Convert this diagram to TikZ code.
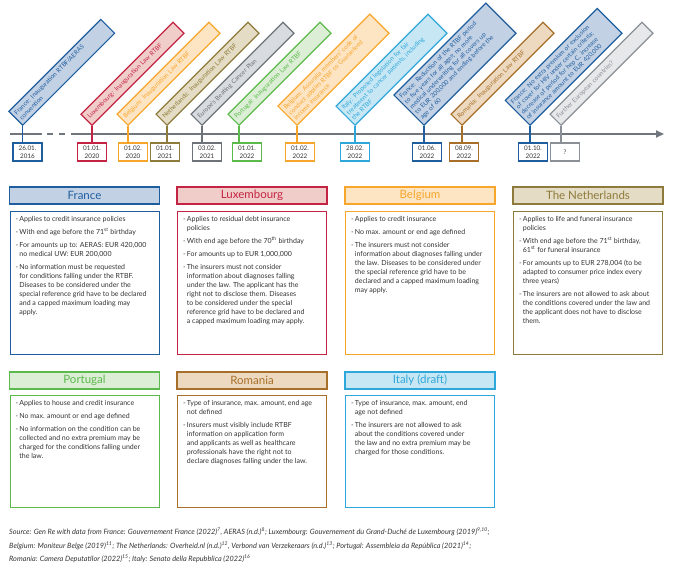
\documentclass[tikz,border=0pt]{standalone}
\usepackage{fontspec}
\setmainfont{Lato}
\usetikzlibrary{arrows.meta}
\definecolor{FR}{HTML}{1F5E9E}\definecolor{FRl}{HTML}{C3D1E5}
\definecolor{LU}{HTML}{C42443}\definecolor{LUl}{HTML}{F1CDC9}
\definecolor{BE}{HTML}{F7A52B}\definecolor{BEl}{HTML}{FDE5C3}
\definecolor{NL}{HTML}{8E7B3C}\definecolor{NLl}{HTML}{E4DCC4}
\definecolor{EU}{HTML}{6D7379}\definecolor{EUl}{HTML}{D8DBDF}
\definecolor{PT}{HTML}{5CB94B}\definecolor{PTl}{HTML}{DCEFD6}
\definecolor{IT}{HTML}{2EA8DA}\definecolor{ITl}{HTML}{C8E7F5}
\definecolor{RO}{HTML}{A86F2A}\definecolor{ROl}{HTML}{ECD9BF}
\definecolor{FU}{HTML}{8A9096}\definecolor{FUl}{HTML}{E6E8EA}
\definecolor{txt}{HTML}{333333}
\definecolor{axisc}{HTML}{6F767D}
\newcommand\itm[1]{\par\hangindent=3.8pt\hangafter=1\noindent\makebox[3.8pt][l]{-}#1\par}
\newcommand\cbox[2]{\makebox[138pt][l]{\parbox[t][#1][t]{200pt}{\fontsize{7}{9}\selectfont\parskip=4pt #2}}}
\begin{document}
\begin{tikzpicture}[x=1pt,y=-1pt,
  axisline/.style={draw=axisc, line width=1.8pt},
  tb/.style={rotate=45, anchor=south west, draw=#1, fill=#1l, text=#1, line width=1.2pt,
    font=\fontsize{6.2}{7.3}\selectfont, align=left, text width=124pt,
    inner xsep=3pt, inner ysep=3.8pt, minimum height=15.5pt},
  db/.style={draw=#1, fill=white, text=txt, line width=1.2pt, minimum width=29pt,
    minimum height=18pt, inner sep=0pt, align=center, font=\fontsize{6.3}{7.6}\selectfont},
  stem/.style={draw=#1, line width=1.2pt},
  hd/.style={draw=#1, fill=#1l, text=#1, line width=1.2pt, minimum width=150pt,
    minimum height=17pt, inner sep=0pt, font=\fontsize{11.5}{13}\selectfont},
  cb/.style={draw=#1, fill=white, text=txt, line width=1.2pt, anchor=north west,
    inner xsep=5.5pt, inner ysep=5pt}]
\useasboundingbox (0,0) rectangle (674,570);

% axis
\coordinate (a0) at (10,134); \coordinate (a1) at (42,134);
\coordinate (a2) at (47,134); \coordinate (a3) at (65,134);
\coordinate (a4) at (71,134); \coordinate (a5) at (664,134);
\draw[axisline] (a0) -- (a1);
\draw[axisline, dash pattern=on 6pt off 6pt] (a2) -- (a3);
\draw[axisline, -{Triangle[length=8pt,width=7pt]}] (a4) -- (a5);

% date boxes
\node[db=FR] (d1) at (27.5,152) {26.01.\\2016};
\node[db=LU] (d2) at (92,152) {01.01.\\2020};
\node[db=BE] (d3) at (133,152) {01.02.\\2020};
\node[db=NL] (d4) at (165,152) {01.01.\\2021};
\node[db=EU] (d5) at (207,152) {03.02.\\2021};
\node[db=PT] (d6) at (247,152) {01.01.\\2022};
\node[db=BE] (d7) at (300,152) {01.02.\\2022};
\node[db=IT] (d8) at (355,152) {28.02.\\2022};
\node[db=FR] (d9) at (427,152) {01.06.\\2022};
\node[db=RO] (d10) at (464,152) {08.09.\\2022};
\node[db=FR] (d11) at (533,152) {01.10.\\2022};
\node[db=FU] (d12) at (565,152) {?};

% tilted boxes
\node[tb=FR] (t1) at (22.7,126) {France: Inauguration RTBF/AERAS\\convention};
\node[tb=LU] (t2) at (92,126) {Luxembourg: Inauguration Law RTBF};
\node[tb=BE] (t3) at (128,126) {Belgium: Inauguration Law RTBF};
\node[tb=NL] (t4) at (167,126) {Netherlands: Inauguration Law RTBF};
\node[tb=EU] (t5) at (202,126) {Europe's Beating Cancer Plan};
\node[tb=PT] (t6) at (239,126) {Portugal: Inauguration Law RTBF};
\node[tb=BE] (t7) at (297,126) {Belgium: Assuralia members' code of\\conduct applies RTBF to Guaranteed\\income insurance};
\node[tb=IT] (t8) at (355,126) {Italy: Proposed legislation for fair\\treatment to cancer patients, including\\the RTBF};
\node[tb=FR] (t9) at (424,126) {France: Reduction of the RTBF period\\to five years for all ages; no more\\medical underwriting for all covers up\\to EUR 200,000 and ending before the\\age of 60};
\node[tb=RO] (t10) at (462,126) {Romania: Inauguration Law RTBF};
\node[tb=FR] (t11) at (530,126) {France: No extra premium or exclusion\\of cover for HIV under certain criteria;\\decrease of period for hep C, increase\\of insurance amount to EUR 420,000};
\node[tb=FU] (t12) at (561,126) {Further European countries?};

% stems
\draw[stem=FR] (t1.south west) -- (t1.south west |- d1.north);
\draw[stem=LU] (t2.south west) -- (t2.south west |- d2.north);
\draw[stem=BE] (t3.south west) -- (t3.south west |- d3.north);
\draw[stem=NL] (t4.south west) -- (t4.south west |- d4.north);
\draw[stem=EU] (t5.south west) -- (t5.south west |- d5.north);
\draw[stem=PT] (t6.south west) -- (t6.south west |- d6.north);
\draw[stem=BE] (t7.south west) -- (t7.south west |- d7.north);
\draw[stem=IT] (t8.south west) -- (t8.south west |- d8.north);
\draw[stem=FR] (t9.south west) -- (t9.south west |- d9.north);
\draw[stem=RO] (t10.south west) -- (t10.south west |- d10.north);
\draw[stem=FR] (t11.south west) -- (t11.south west |- d11.north);
\draw[stem=FU] (t12.south west) -- (t12.south west |- d12.north);

% headers row 1
\node[hd=FR] (hFR) at (84.5,195.5) {France};
\node[hd=LU] (hLU) at (252,195.5) {Luxembourg};
\node[hd=BE] (hBE) at (420,195.5) {Belgium};
\node[hd=NL] (hNL) at (588,195.5) {The Netherlands};
% headers row 2
\node[hd=PT] (hPT) at (84.5,380.5) {Portugal};
\node[hd=RO] (hRO) at (252,380.5) {Romania};
\node[hd=IT] (hIT) at (420,380.5) {Italy (draft)};

% content row 1
\node[cb=FR] (bFR) at (9.5,211) {\cbox{133pt}{%
\itm{Applies to credit insurance policies}
\itm{With end age before the 71\textsuperscript{st} birthday}
\itm{For amounts up to: AERAS: EUR 420,000\\no medical UW: EUR 200,000}
\itm{No information must be requested\\for conditions falling under the RTBF.\\Diseases to be considered under the\\special reference grid have to be declared\\and a capped maximum loading may\\apply.}}};
\node[cb=LU] (bLU) at (177,211) {\cbox{133pt}{%
\itm{Applies to residual debt insurance\\policies}
\itm{With end age before the 70\textsuperscript{th} birthday}
\itm{For amounts up to EUR 1,000,000}
\itm{The insurers must not consider\\information about diagnoses falling\\under the law. The applicant has the\\right not to disclose them. Diseases\\to be considered under the special\\reference grid have to be declared and\\a capped maximum loading may apply.}}};
\node[cb=BE] (bBE) at (345,211) {\cbox{133pt}{%
\itm{Applies to credit insurance}
\itm{No max. amount or end age defined}
\itm{The insurers must not consider\\information about diagnoses falling under\\the law. Diseases to be considered under\\the special reference grid have to be\\declared and a capped maximum loading\\may apply.}}};
\node[cb=NL] (bNL) at (513,211) {\cbox{133pt}{%
\itm{Applies to life and funeral insurance\\policies}
\itm{With end age before the 71\textsuperscript{st} birthday,\\61\textsuperscript{st} for funeral insurance}
\itm{For amounts up to EUR 278,004 (to be\\adapted to consumer price index every\\three years)}
\itm{The insurers are not allowed to ask about\\the conditions covered under the law and\\the applicant does not have to disclose\\them.}}};

% content row 2
\node[cb=PT] (bPT) at (9.5,395) {\cbox{102pt}{%
\itm{Applies to house and credit insurance}
\itm{No max. amount or end age defined}
\itm{No information on the condition can be\\collected and no extra premium may be\\charged for the conditions falling under\\the law.}}};
\node[cb=RO] (bRO) at (177,395) {\cbox{102pt}{%
\itm{Type of insurance, max. amount, end age\\not defined}
\itm{Insurers must visibly include RTBF\\information on application form\\and applicants as well as healthcare\\professionals have the right not to\\declare diagnoses falling under the law.}}};
\node[cb=IT] (bIT) at (345,395) {\cbox{102pt}{%
\itm{Type of insurance, max. amount, end\\age not defined}
\itm{The insurers are not allowed to ask\\about the conditions covered under\\the law and no extra premium may be\\charged for those conditions.}}};

% source
\node[anchor=north west, align=left, inner sep=0pt, text=txt,
  font=\fontsize{7.3}{13.5}\selectfont\itshape] (src) at (9,528)
{Source: Gen Re with data from France: Gouvernement France (2022)\textsuperscript{7}, AERAS (n.d.)\textsuperscript{8}; Luxembourg: Gouvernement du Grand-Duché de Luxembourg (2019)\textsuperscript{9,10};\\
Belgium: Moniteur Belge (2019)\textsuperscript{11}; The Netherlands: Overheid.nl (n.d.)\textsuperscript{12}, Verbond van Verzekeraars (n.d.)\textsuperscript{13}; Portugal: Assembleia da República (2021)\textsuperscript{14};\\
Romania: Camera Deputatilor (2022)\textsuperscript{15}; Italy: Senato della Repubblica (2022)\textsuperscript{16}};
\end{tikzpicture}
\end{document}
